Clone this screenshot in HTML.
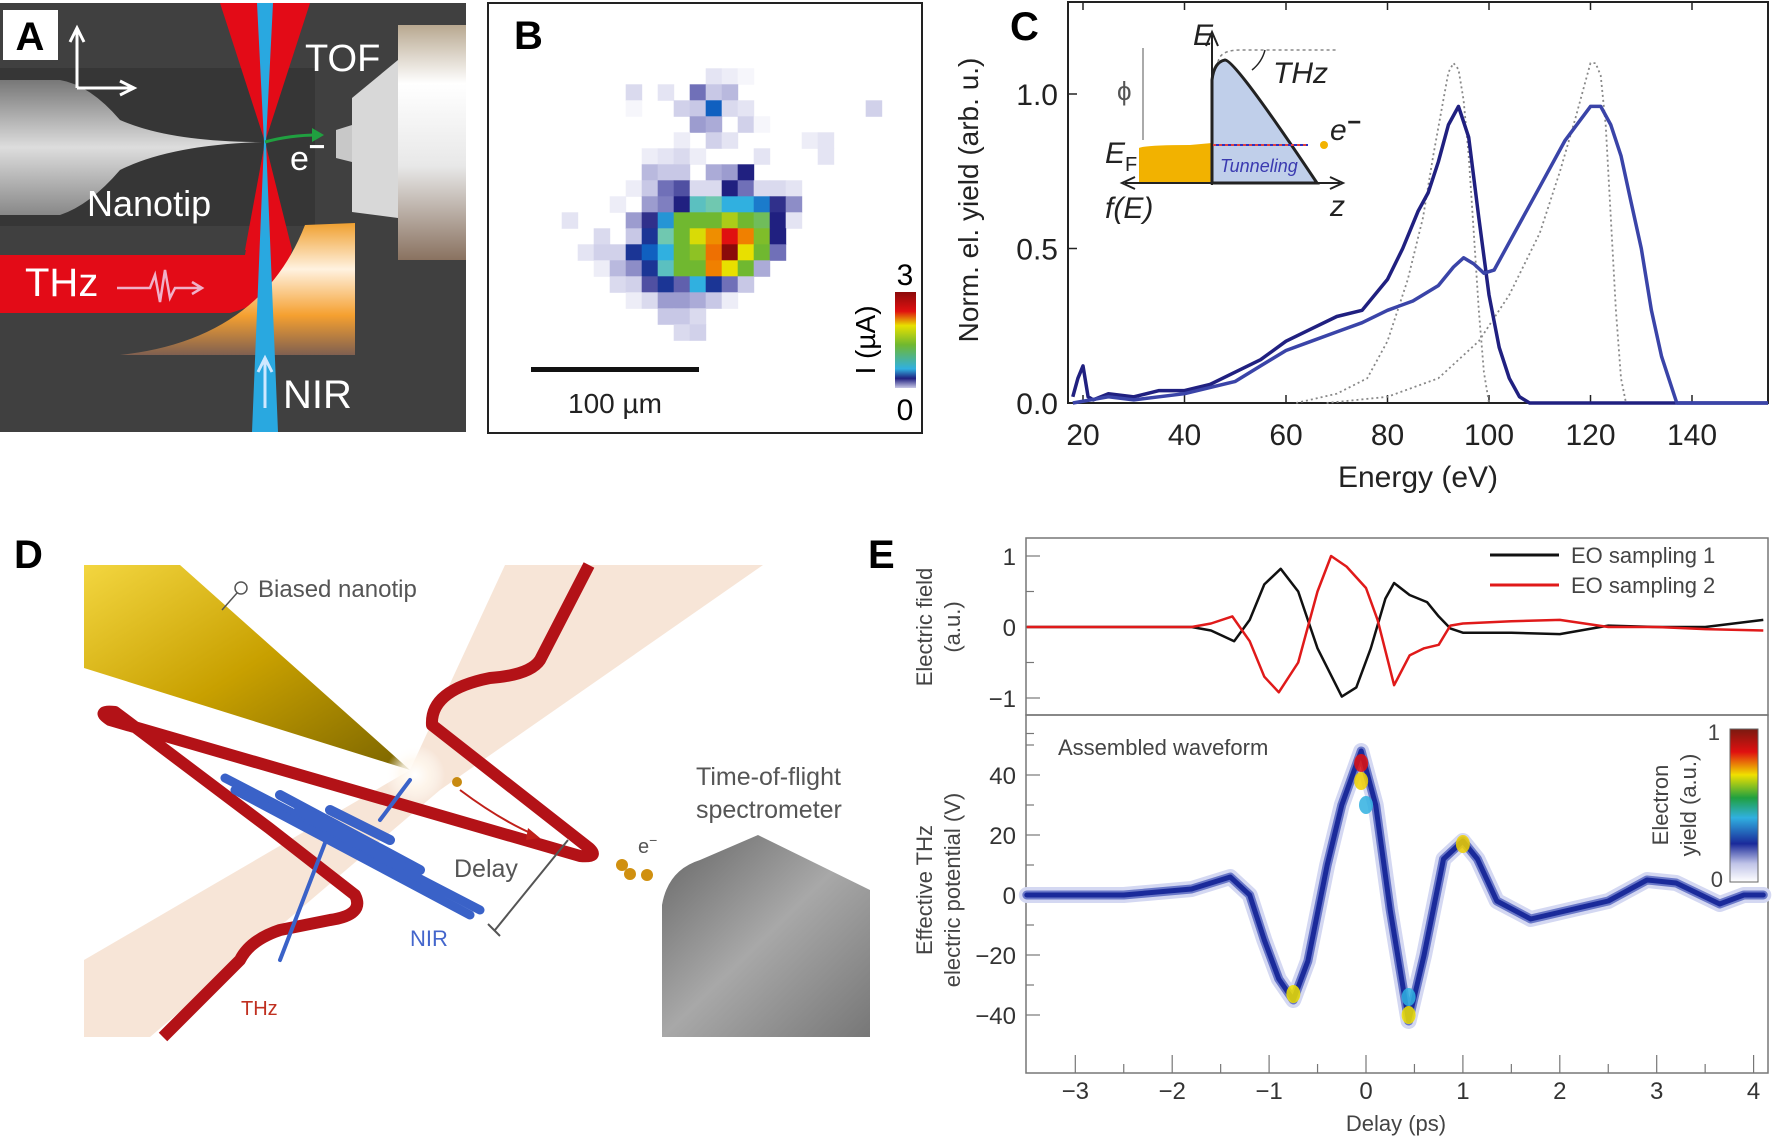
<!DOCTYPE html>
<html><head><meta charset="utf-8">
<style>
html,body{margin:0;padding:0;background:#fff;}
svg{display:block;font-family:"Liberation Sans",sans-serif;}
.tk{font-size:30px;fill:#222;}
.tkE{font-size:24px;fill:#333;}
</style></head>
<body>
<svg id="fig" width="1772" height="1141" viewBox="0 0 1772 1141" xmlns="http://www.w3.org/2000/svg">
<defs>
<linearGradient id="tofG" x1="0" y1="0" x2="0" y2="1"><stop offset="0" stop-color="#b8a890"/><stop offset="0.25" stop-color="#ffffff"/><stop offset="0.6" stop-color="#e8e8e8"/><stop offset="1" stop-color="#8a7260"/></linearGradient>
<linearGradient id="mirG" x1="0" y1="0" x2="0" y2="1"><stop offset="0" stop-color="#f0a030"/><stop offset="0.35" stop-color="#fff2e0"/><stop offset="0.7" stop-color="#f5a030"/><stop offset="1" stop-color="#806050"/></linearGradient>
<linearGradient id="tipG" x1="0" y1="0" x2="0" y2="1"><stop offset="0" stop-color="#777"/><stop offset="0.5" stop-color="#ddd"/><stop offset="1" stop-color="#888"/></linearGradient>
<linearGradient id="goldG" x1="0" y1="0" x2="1" y2="1"><stop offset="0" stop-color="#f3d640"/><stop offset="0.5" stop-color="#c8a000"/><stop offset="1" stop-color="#7a6400"/></linearGradient>
<linearGradient id="grayG" x1="0" y1="0" x2="1" y2="1"><stop offset="0" stop-color="#666"/><stop offset="0.5" stop-color="#a8a8a8"/><stop offset="1" stop-color="#777"/></linearGradient>
<radialGradient id="glow"><stop offset="0" stop-color="#fff"/><stop offset="0.5" stop-color="#fff8ee" stop-opacity="0.8"/><stop offset="1" stop-color="#fff" stop-opacity="0"/></radialGradient>
<linearGradient id="cbB" x1="0" y1="1" x2="0" y2="0"><stop offset="0" stop-color="#c8c8e6"/><stop offset="0.1" stop-color="#202080"/><stop offset="0.2" stop-color="#30b0e0"/><stop offset="0.45" stop-color="#70b830"/><stop offset="0.65" stop-color="#e8e000"/><stop offset="0.8" stop-color="#e01010"/><stop offset="1" stop-color="#8b0a0a"/></linearGradient>
<linearGradient id="cbE" x1="0" y1="1" x2="0" y2="0"><stop offset="0" stop-color="#fff"/><stop offset="0.12" stop-color="#c0c4e8"/><stop offset="0.25" stop-color="#1a2a9a"/><stop offset="0.42" stop-color="#30b0e0"/><stop offset="0.55" stop-color="#20a040"/><stop offset="0.7" stop-color="#f0e000"/><stop offset="0.85" stop-color="#e01010"/><stop offset="1" stop-color="#7a1a10"/></linearGradient>
</defs>

<!-- ===== Panel A ===== -->
<g>
<rect x="0" y="3" width="466" height="429" fill="#404040"/>
<rect x="0" y="68" width="315" height="158" fill="#363636"/>
<path d="M0,80 L60,80 Q90,85 120,120 Q170,142 262,142 Q170,145 120,170 Q90,205 60,215 L0,215 Z" fill="url(#tipG)"/>
<path d="M220,3 L310,3 L265,142 Z M265,142 L245,250 L292,250 Z" fill="#e30b17"/>
<path d="M0,255 L245,255 L265,142 L292,250 Q280,300 230,313 L0,313 Z" fill="#e30b17"/>
<path d="M120,355 Q260,340 305,225 L355,223 L355,355 Z" fill="url(#mirG)"/>
<path d="M257,3 L273,3 L266,142 L278,432 L252,432 L264,142 Z" fill="#29a8e0"/>
<path d="M265,408 L265,360 M258,372 L265,358 L272,372" stroke="#cfe8ff" stroke-width="3" fill="none"/>
<rect x="398" y="25" width="68" height="235" fill="url(#tofG)"/>
<path d="M398,60 L352,98 L352,212 L398,218 Z" fill="#d8d8d8"/>
<path d="M352,125 L336,130 L336,158 L352,162 Z" fill="#c8c8c8"/>
<path d="M265,142 Q290,135 318,135" stroke="#20a040" stroke-width="3" fill="none"/>
<path d="M312,128 L324,135 L312,142 Z" fill="#20a040"/>
<path d="M77,88 L77,30 M70,42 L77,28 L84,42 M77,88 L132,88 M120,81 L134,88 L120,95" stroke="#fff" stroke-width="3" fill="none"/>
<rect x="3" y="10" width="55" height="50" fill="#fff"/>
<text x="30" y="50" font-size="40" font-weight="bold" text-anchor="middle">A</text>
<text x="305" y="71" font-size="38" fill="#fff">TOF</text>
<text x="87" y="216" font-size="36" fill="#fff">Nanotip</text>
<text x="290" y="170" font-size="34" fill="#fff">e<tspan dy="-14" font-size="28" font-weight="bold">−</tspan></text>
<text x="25" y="296" font-size="40" fill="#fff">THz</text>
<path d="M117,288 L150,288 L155,275 L160,302 L165,270 L170,298 L175,288 L200,288 M192,282 L202,288 L192,294" stroke="#f0b0c8" stroke-width="2.5" fill="none"/>
<text x="283" y="408" font-size="40" fill="#fff">NIR</text>
</g>

<!-- ===== Panel B ===== -->
<g>
<rect x="488" y="3" width="434" height="430" fill="#fff" stroke="#222" stroke-width="2"/>
<g id="bGrid"></g>
<text x="514" y="49" font-size="40" font-weight="bold">B</text>
<rect x="531" y="367" width="168" height="5" fill="#111"/>
<text x="615" y="413" font-size="28" text-anchor="middle" fill="#222">100 µm</text>
<rect x="895" y="292" width="21" height="96" fill="url(#cbB)"/>
<text x="905" y="285" font-size="30" text-anchor="middle">3</text>
<text x="905" y="420" font-size="30" text-anchor="middle">0</text>
<text transform="translate(875,340) rotate(-90)" font-size="28" text-anchor="middle">I (µA)</text>
</g>

<!-- ===== Panel C ===== -->
<g>
<rect x="1068" y="2" width="700" height="401" fill="none" stroke="#222" stroke-width="2"/>
<g id="cAxes"></g>
<g id="cSeries"></g>
<text x="1010" y="40" font-size="40" font-weight="bold">C</text>
<text transform="translate(978,200) rotate(-90)" font-size="28" text-anchor="middle" fill="#222">Norm. el. yield (arb. u.)</text>
<text x="1418" y="487" font-size="30" text-anchor="middle" fill="#222">Energy (eV)</text>
<!-- inset -->
<g>
<path d="M1139,183 L1139,148 Q1145,145 1190,145 L1212,143 L1212,183 Z" fill="#f2b200"/>
<path d="M1212,183 L1212,80 Q1214,62 1225,60 Q1235,60 1317,183 Z" fill="#c0cfea" stroke="#222" stroke-width="3"/>
<path d="M1218,62 Q1220,50 1240,50 L1337,50" stroke="#888" stroke-width="1.5" stroke-dasharray="3,3" fill="none"/>
<path d="M1265,50 Q1262,62 1252,70" stroke="#222" stroke-width="1.5" fill="none"/>
<path d="M1212,185 L1212,35 M1206,46 L1212,32 L1218,46" stroke="#222" stroke-width="2" fill="none"/>
<path d="M1125,183 L1340,183 M1135,177 L1122,183 L1135,189 M1330,177 L1343,183 L1330,189" stroke="#222" stroke-width="2" fill="none"/>
<path d="M1143,48 L1143,140" stroke="#aaa" stroke-width="2"/>
<path d="M1213,145 L1308,145" stroke="#e04040" stroke-width="2" stroke-dasharray="3,3"/>
<path d="M1213,145 L1308,145" stroke="#3030c0" stroke-width="2" stroke-dasharray="3,3" stroke-dashoffset="3"/>
<circle cx="1324" cy="145" r="4" fill="#f2b200"/>
<text x="1193" y="45" font-size="30" font-style="italic" fill="#222">E</text>
<text x="1273" y="83" font-size="30" font-style="italic" fill="#222">THz</text>
<text x="1117" y="100" font-size="26" fill="#555">ϕ</text>
<text x="1105" y="163" font-size="30" font-style="italic" fill="#222">E<tspan font-size="20" font-style="normal" dy="8">F</tspan></text>
<text x="1220" y="172" font-size="18" font-style="italic" fill="#3a3ab0">Tunneling</text>
<text x="1330" y="140" font-size="30" font-style="italic" fill="#222">e<tspan dy="-10" font-size="24" font-weight="bold">−</tspan></text>
<text x="1105" y="218" font-size="30" font-style="italic" fill="#222">f(E)</text>
<text x="1330" y="216" font-size="30" font-style="italic" fill="#222">z</text>
</g>
</g>

<!-- ===== Panel D ===== -->
<g>
<text x="14" y="568" font-size="40" font-weight="bold">D</text>
<path d="M505,565 L763,565 L440,790 L150,1037 L84,1037 L84,960 L410,770 Z" fill="#f6e0d0" opacity="0.85"/>
<path d="M84,565 L180,565 L410,770 L84,668 Z" fill="url(#goldG)"/>
<circle cx="415" cy="775" r="30" fill="url(#glow)"/>
<path d="M589,565 L540,660 Q530,675 490,678 Q430,690 432,725 L589,848 Q600,858 580,856 L110,720 Q95,710 115,712 L269,828 L355,895 Q365,915 330,920 L280,930 Q250,940 240,960 L163,1037" stroke="#b31217" stroke-width="12" fill="none" stroke-linejoin="round"/>
<g stroke="#3a62c8" stroke-linecap="round">
<path d="M225,778 L480,910" stroke-width="9"/>
<path d="M235,790 L470,915" stroke-width="9"/>
<path d="M280,795 L420,870" stroke-width="10"/>
<path d="M300,810 L400,865" stroke-width="12"/>
<path d="M330,810 L390,840" stroke-width="10"/>
<path d="M330,830 L280,960" stroke-width="4"/>
<path d="M380,820 L410,780" stroke-width="4"/>
</g>
<circle cx="457" cy="782" r="5" fill="#c88a10"/>
<path d="M460,790 Q500,820 535,835" stroke="#c0201a" stroke-width="2" fill="none"/>
<path d="M528,828 L540,838 L526,840 Z" fill="#c0201a"/>
<path d="M568,840 L495,930 M488,924 L500,936" stroke="#555" stroke-width="2"/>
<circle cx="622" cy="865" r="6" fill="#d09010"/><circle cx="630" cy="874" r="6" fill="#d09010"/><circle cx="647" cy="875" r="6" fill="#d09010"/>
<path d="M662,1037 L662,905 Q668,870 700,860 L758,835 L870,890 L870,1037 Z" fill="url(#grayG)"/>
<circle cx="241" cy="588" r="6" fill="#fff" stroke="#555" stroke-width="1.5"/>
<path d="M237,593 L222,610" stroke="#555" stroke-width="1.5"/>
<text x="258" y="597" font-size="24" fill="#555">Biased nanotip</text>
<text x="696" y="785" font-size="25" fill="#555">Time-of-flight</text>
<text x="696" y="818" font-size="25" fill="#555">spectrometer</text>
<text x="454" y="877" font-size="25" fill="#555">Delay</text>
<text x="410" y="946" font-size="22" fill="#4466cc">NIR</text>
<text x="241" y="1015" font-size="20" fill="#c03020">THz</text>
<text x="638" y="853" font-size="20" fill="#555">e<tspan dy="-8" font-size="14">−</tspan></text>
</g>

<!-- ===== Panel E ===== -->
<g>
<text x="868" y="568" font-size="40" font-weight="bold">E</text>
<rect x="1026" y="538" width="742" height="177" fill="none" stroke="#777" stroke-width="1.5"/>
<rect x="1026" y="715" width="742" height="358" fill="none" stroke="#777" stroke-width="1.5"/>
<g id="eAxes"></g>
<g id="eBottom"></g>
<g id="eTop"></g>
<text transform="translate(932,627) rotate(-90)" font-size="22" text-anchor="middle" fill="#444">Electric field</text>
<text transform="translate(960,627) rotate(-90)" font-size="22" text-anchor="middle" fill="#444">(a.u.)</text>
<text transform="translate(932,890) rotate(-90)" font-size="22" text-anchor="middle" fill="#444">Effective THz</text>
<text transform="translate(960,890) rotate(-90)" font-size="22" text-anchor="middle" fill="#444">electric potential (V)</text>
<text x="1396" y="1131" font-size="22" text-anchor="middle" fill="#444">Delay (ps)</text>
<text x="1058" y="755" font-size="22" fill="#444">Assembled waveform</text>
<line x1="1490" y1="555" x2="1559" y2="555" stroke="#111" stroke-width="3"/>
<text x="1571" y="563" font-size="22" fill="#444">EO sampling 1</text>
<line x1="1490" y1="585" x2="1559" y2="585" stroke="#e01a1a" stroke-width="3"/>
<text x="1571" y="593" font-size="22" fill="#444">EO sampling 2</text>
<rect x="1730" y="729" width="28" height="153" fill="url(#cbE)" stroke="#666" stroke-width="1"/>
<text x="1720" y="740" font-size="22" text-anchor="end" fill="#444">1</text>
<text x="1723" y="887" font-size="22" text-anchor="end" fill="#444">0</text>
<text transform="translate(1668,805) rotate(-90)" font-size="22" text-anchor="middle" fill="#444">Electron</text>
<text transform="translate(1696,805) rotate(-90)" font-size="22" text-anchor="middle" fill="#444">yield (a.u.)</text>
</g>
</svg>

<script>
// ---------- Panel B data ----------
const bRows = [
 [[9,0.15],[10,0.1],[11,0.05]],
 [[4,0.2],[6,0.15],[8,0.6],[9,0.3],[10,0.35]],
 [[4,0.05],[7,0.25],[8,0.3],[9,1.0],[10,0.2],[11,0.15],[19,0.25]],
 [[8,0.45],[9,0.4],[11,0.25],[12,0.05]],
 [[7,0.1],[9,0.25],[10,0.15],[15,0.1],[16,0.15]],
 [[5,0.1],[6,0.15],[7,0.2],[8,0.1],[12,0.15],[16,0.15]],
 [[5,0.35],[6,0.3],[7,0.3],[9,0.4],[10,0.45],[11,0.85]],
 [[4,0.1],[5,0.3],[6,0.6],[7,0.7],[8,0.2],[9,0.2],[10,0.85],[11,0.6],[12,0.2],[13,0.2],[14,0.15]],
 [[3,0.1],[5,0.45],[6,0.55],[7,0.85],[8,1.25],[9,1.3],[10,1.15],[11,1.15],[12,1.05],[13,0.8],[14,0.5]],
 [[0,0.15],[4,0.45],[5,0.8],[6,1.1],[7,1.6],[8,1.6],[9,1.6],[10,1.8],[11,1.6],[12,1.5],[13,0.85],[14,0.15]],
 [[2,0.2],[4,0.3],[5,0.9],[6,1.3],[7,1.6],[8,1.95],[9,2.3],[10,2.7],[11,2.35],[12,1.65],[13,0.85]],
 [[1,0.15],[2,0.25],[3,0.25],[4,0.9],[5,1.0],[6,1.15],[7,1.6],[8,1.7],[9,2.4],[10,3.0],[11,2.0],[12,1.6],[13,0.6]],
 [[2,0.1],[3,0.35],[4,0.5],[5,0.9],[6,1.25],[7,1.6],[8,1.6],[9,2.35],[10,2.0],[11,1.6],[12,0.4]],
 [[3,0.2],[4,0.25],[5,0.7],[6,0.9],[7,0.65],[8,1.15],[9,0.9],[10,0.6],[11,0.3]],
 [[4,0.1],[5,0.2],[6,0.45],[7,0.45],[8,0.4],[9,0.3],[10,0.1]],
 [[6,0.3],[7,0.3],[8,0.2]],
 [[7,0.2],[8,0.25]]
];
const bStops = [[0,[255,255,255]],[0.3,[200,200,230]],[0.6,[112,112,184]],[0.85,[32,32,128]],[1.0,[16,96,192]],[1.15,[48,176,224]],[1.3,[112,200,176]],[1.6,[112,184,48]],[2.0,[232,224,0]],[2.35,[240,128,0]],[2.7,[224,16,16]],[3.0,[139,10,10]]];
function bColor(v){
  for(let i=1;i<bStops.length;i++){
    if(v<=bStops[i][0]){const a=bStops[i-1],b=bStops[i],f=(v-a[0])/(b[0]-a[0]);
      return 'rgb('+a[1].map((c,k)=>Math.round(c+(b[1][k]-c)*f)).join(',')+')';}
  }
  return 'rgb(139,10,10)';
}
const NS='http://www.w3.org/2000/svg';
function mk(tag,attrs,parent){const e=document.createElementNS(NS,tag);for(const k in attrs)e.setAttribute(k,attrs[k]);parent.appendChild(e);return e;}
const bG=document.getElementById('bGrid');
const bx0=561.7, by0=68.3, bc=16;
bRows.forEach((row,r)=>row.forEach(([c,v])=>{
  const el=mk('rect',{x:bx0+c*bc,y:by0+r*bc,width:bc+0.5,height:bc+0.5,fill:bColor(v)},bG);
  
  
}));

// ---------- Panel C data ----------
const cXTicks=[20,40,60,80,100,120,140];
const cYTicks=[0.0,0.5,1.0];
const cYLabels=['0.0','0.5','1.0'];
const cE1=[18,19,20,21,22,25,30,35,40,45,50,55,60,65,70,75,80,83,86,88,90,92,94,96,98,100,102,104,106,108,155];
const cY1=[0.02,0.08,0.12,0.02,0.01,0.03,0.02,0.04,0.04,0.06,0.1,0.14,0.2,0.24,0.28,0.3,0.4,0.5,0.62,0.68,0.78,0.9,0.96,0.86,0.6,0.35,0.18,0.08,0.02,0,0];
const cE2=[18,25,30,40,50,55,60,65,70,75,80,85,90,93,95,97,99,101,105,110,115,120,122,124,126,128,130,132,134,137,155];
const cY2=[0.0,0.02,0.01,0.03,0.07,0.12,0.17,0.2,0.23,0.26,0.3,0.33,0.38,0.44,0.47,0.45,0.42,0.43,0.55,0.7,0.85,0.96,0.96,0.9,0.8,0.65,0.5,0.3,0.15,0,0];
const cE3=[62,70,76,80,84,87,89,91,92,93,94,95,96,97,98,99,100];
const cY3=[0,0.03,0.08,0.2,0.4,0.6,0.8,0.98,1.07,1.1,1.08,0.98,0.8,0.55,0.3,0.1,0];
const cE4=[68,80,90,98,104,110,114,117,119,120,121,122,123,124,125,126,127];
const cY4=[0,0.02,0.08,0.2,0.35,0.55,0.75,0.92,1.04,1.1,1.1,1.06,0.9,0.6,0.3,0.08,0];
const cx=e=>1083+(e-20)*5.075, cy=v=>403-v*309;
const cA=document.getElementById('cAxes'), cS=document.getElementById('cSeries');
cXTicks.forEach(t=>{
  mk('line',{x1:cx(t),y1:403,x2:cx(t),y2:395,stroke:'#222','stroke-width':1.5},cA);
  mk('line',{x1:cx(t),y1:2,x2:cx(t),y2:10,stroke:'#222','stroke-width':1.5},cA);
  const tx=mk('text',{x:cx(t),y:445,'text-anchor':'middle',class:'tk'},cA);tx.textContent=t;
  
  
});
cYTicks.forEach((t,i)=>{
  mk('line',{x1:1068,y1:cy(t),x2:1077,y2:cy(t),stroke:'#222','stroke-width':1.5},cA);
  const tx=mk('text',{x:1058,y:cy(t)+11,'text-anchor':'end',class:'tk'},cA);tx.textContent=cYLabels[i];
  
  
});
function line(xs,ys,fx,fy,attrs,parent,name){
  const d=xs.map((x,i)=>(i?'L':'M')+fx(x).toFixed(1)+','+fy(ys[i]).toFixed(1)).join(' ');
  const p=mk('path',Object.assign({d:d,fill:'none'},attrs),parent);
  
  
  return p;
}
line(cE3,cY3,cx,cy,{stroke:'#888','stroke-width':1.8,'stroke-dasharray':'2,3'},cS,'simulated-spectrum-1');
line(cE4,cY4,cx,cy,{stroke:'#888','stroke-width':1.8,'stroke-dasharray':'2,3'},cS,'simulated-spectrum-2');
line(cE1,cY1,cx,cy,{stroke:'#202080','stroke-width':3.5,'stroke-linejoin':'round'},cS,'measured-spectrum-1');
line(cE2,cY2,cx,cy,{stroke:'#3a44a8','stroke-width':3.5,'stroke-linejoin':'round'},cS,'measured-spectrum-2');

// ---------- Panel E data ----------
const eXTicks=[-3,-2,-1,0,1,2,3,4];
const eXLabels=['−3','−2','−1','0','1','2','3','4'];
const eTopTicks=[1,0,-1];
const eTopLabels=['1','0','−1'];
const eBotTicks=[40,20,0,-20,-40];
const eBotLabels=['40','20','0','−20','−40'];
const eT1=[-3.5,-2.5,-1.8,-1.6,-1.36,-1.2,-1.05,-0.88,-0.7,-0.5,-0.25,-0.1,0.05,0.2,0.29,0.45,0.63,0.75,0.87,1.0,1.5,2.0,2.5,3.0,3.5,4.1];
const eV1=[0,0,0,-0.05,-0.2,0.1,0.6,0.82,0.5,-0.3,-0.98,-0.85,-0.3,0.4,0.62,0.45,0.35,0.15,-0.02,-0.08,-0.08,-0.1,0.02,0.0,0.0,0.1];
const eT2=[-3.5,-2.5,-1.8,-1.6,-1.38,-1.2,-1.05,-0.9,-0.7,-0.5,-0.36,-0.2,0.0,0.12,0.29,0.45,0.6,0.75,0.87,1.0,1.5,2.0,2.5,3.0,3.5,4.1];
const eV2=[0,0,0,0.05,0.15,-0.2,-0.7,-0.92,-0.5,0.5,1.0,0.85,0.55,0.1,-0.82,-0.4,-0.3,-0.25,0.02,0.05,0.08,0.1,0,0,-0.03,-0.05];
const eTb=[-3.5,-2.5,-1.8,-1.4,-1.2,-1.05,-0.9,-0.75,-0.6,-0.4,-0.25,-0.05,0.1,0.25,0.44,0.6,0.8,1.0,1.15,1.35,1.7,2.1,2.5,2.9,3.2,3.65,3.9,4.1];
const eVb=[0,0,2,6,0,-15,-28,-35,-22,10,30,48,30,-5,-42,-20,12,18,12,-2,-8,-5,-2,5,4,-3,0,0];
const ex=t=>1366+96.9*t, eyT=v=>627-v*71, eyB=v=>895-v*3;
const eA=document.getElementById('eAxes');
eXTicks.forEach((t,i)=>{
  mk('line',{x1:ex(t),y1:1073,x2:ex(t),y2:1055,stroke:'#777','stroke-width':1.2},eA);
  mk('line',{x1:ex(t+0.5),y1:1073,x2:ex(t+0.5),y2:1064,stroke:'#777','stroke-width':1.2},eA);
  const tx=mk('text',{x:ex(t),y:1099,'text-anchor':'middle',class:'tkE'},eA);tx.textContent=eXLabels[i];
  
  
});
eTopTicks.forEach((t,i)=>{
  mk('line',{x1:1026,y1:eyT(t),x2:1040,y2:eyT(t),stroke:'#777','stroke-width':1.2},eA);
  mk('line',{x1:1026,y1:eyT(t-0.5),x2:1034,y2:eyT(t-0.5),stroke:'#777','stroke-width':1.2},eA);
  const tx=mk('text',{x:1016,y:eyT(t)+9,'text-anchor':'end',class:'tkE'},eA);tx.textContent=eTopLabels[i];
  
  
});
eBotTicks.forEach((t,i)=>{
  mk('line',{x1:1026,y1:eyB(t),x2:1040,y2:eyB(t),stroke:'#777','stroke-width':1.2},eA);
  mk('line',{x1:1026,y1:eyB(t+10),x2:1034,y2:eyB(t+10),stroke:'#777','stroke-width':1.2},eA);
  const tx=mk('text',{x:1016,y:eyB(t)+9,'text-anchor':'end',class:'tkE'},eA);tx.textContent=eBotLabels[i];
  
  
});
const eB=document.getElementById('eBottom');
const sm={'stroke-linejoin':'round','stroke-linecap':'round'};
line(eTb,eVb,ex,eyB,Object.assign({stroke:'#d4d8f2','stroke-width':16},sm),eB,'waveform-halo');
line(eTb,eVb,ex,eyB,Object.assign({stroke:'#6a78c8','stroke-width':9},sm),eB,'waveform-band');
line(eTb,eVb,ex,eyB,Object.assign({stroke:'#1a2a9a','stroke-width':5},sm),eB,'assembled-waveform');
// hot spots on peaks
[[-0.05,44,'#e01010'],[-0.05,38,'#f0d000'],[0.0,30,'#30b0e0'],[-0.75,-33,'#f0e000'],[0.44,-40,'#f0e000'],[0.44,-34,'#30b0e0'],[1.0,17,'#f0d000']].forEach(([t,v,c])=>{
  const e=mk('ellipse',{cx:ex(t),cy:eyB(v),rx:7,ry:9,fill:c,opacity:0.85},eB);
  
  
});
const eTop=document.getElementById('eTop');
line(eT1,eV1,ex,eyT,{stroke:'#111','stroke-width':2.5,'stroke-linejoin':'round'},eTop,'eo-sampling-1');
line(eT2,eV2,ex,eyT,{stroke:'#e01a1a','stroke-width':2.5,'stroke-linejoin':'round'},eTop,'eo-sampling-2');
</script>
</body></html>
